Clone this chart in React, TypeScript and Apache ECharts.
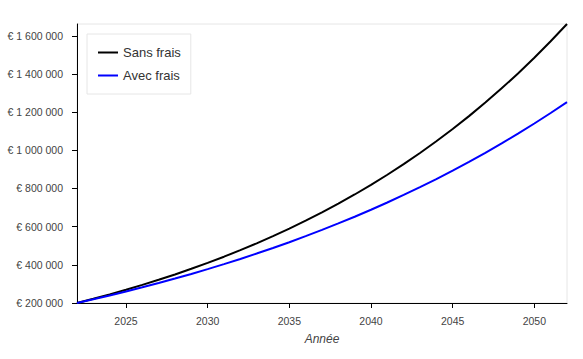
import React, { useEffect, useRef } from "react";
import * as echarts from "echarts";

const years = [
  2022, 2023, 2024, 2025, 2026, 2027, 2028, 2029, 2030, 2031, 2032, 2033, 2034, 2035, 2036, 2037,
  2038, 2039, 2040, 2041, 2042, 2043, 2044, 2045, 2046, 2047, 2048, 2049, 2050, 2051, 2052,
];
const sansFrais = [
  200000, 222000, 245100, 269400, 294800, 321600, 349600, 379100, 410100, 442600, 476700, 512500,
  550200, 589700, 631200, 674700, 720500, 768500, 818900, 871900, 927500, 985800, 1047100, 1111500,
  1179000, 1250000, 1324500, 1402700, 1484900, 1571100, 1661700,
];
const avecFrais = [
  200000, 219400, 239500, 260500, 282200, 304700, 328100, 352300, 377500, 403700, 430800, 459000,
  488200, 518600, 550100, 582800, 616800, 652000, 688600, 726600, 766000, 806900, 849300, 893400,
  939200, 986700, 1036000, 1087100, 1140300, 1195400, 1252600,
];
const xTicks = [2025, 2030, 2035, 2040, 2045, 2050];
const yTicks = [200000, 400000, 600000, 800000, 1000000, 1200000, 1400000, 1600000];

const fmtEuro = (v: number) =>
  "€ " + String(Math.round(v)).replace(/\B(?=(\d{3})+(?!\d))/g, " ");

const FONT = "'Liberation Sans', Arial, sans-serif";

export default function App() {
  const ref = useRef<HTMLDivElement>(null);
  useEffect(() => {
    if (!ref.current) return;
    const chart = echarts.init(ref.current, undefined, { renderer: "svg" });
    chart.setOption({
      animation: false,
      textStyle: { fontFamily: FONT },
      grid: {
        left: 77,
        right: 16,
        top: 24,
        bottom: 56,
        show: true,
        borderColor: "#e6e6e6",
        borderWidth: 1,
      },
      legend: {
        left: 87,
        top: 34,
        orient: "vertical",
        backgroundColor: "#fff",
        borderColor: "#e6e6e6",
        borderWidth: 1,
        padding: [12, 10, 12, 10],
        itemGap: 10,
        itemWidth: 20,
        itemHeight: 14,
        itemStyle: { opacity: 0 },
        textStyle: { fontSize: 13, color: "#333", fontFamily: FONT },
        data: ["Sans frais", "Avec frais"],
      },
      xAxis: {
        type: "value",
        min: 2022,
        max: 2052,
        name: "Année",
        nameLocation: "middle",
        nameGap: 30,
        nameTextStyle: { fontStyle: "italic", fontSize: 12, color: "#444", fontFamily: FONT },
        axisLine: { lineStyle: { color: "#000", width: 1 } },
        axisTick: { show: true, length: 5, lineStyle: { color: "#000" }, customValues: xTicks },
        axisLabel: {
          fontSize: 10.5,
          color: "#444",
          margin: 12,
          customValues: xTicks,
          formatter: (v: number) => String(v),
        },
        splitLine: { show: false },
      },
      yAxis: {
        type: "value",
        min: 200000,
        max: "dataMax",
        axisLine: { show: true, lineStyle: { color: "#000", width: 1 } },
        axisTick: { show: true, length: 5, lineStyle: { color: "#000" }, customValues: yTicks },
        axisLabel: {
          fontSize: 10.5,
          color: "#444",
          margin: 14,
          customValues: yTicks,
          formatter: (v: number) => fmtEuro(v),
        },
        splitLine: { show: false },
      },
      series: [
        {
          name: "Sans frais",
          type: "line",
          data: years.map((y, i) => [y, sansFrais[i]]),
          symbol: "none",
          smooth: false,
          lineStyle: { color: "#000", width: 2 },
          itemStyle: { color: "#000" },
        },
        {
          name: "Avec frais",
          type: "line",
          data: years.map((y, i) => [y, avecFrais[i]]),
          symbol: "none",
          smooth: false,
          lineStyle: { color: "#0000ff", width: 2 },
          itemStyle: { color: "#0000ff" },
        },
      ],
    });
    return () => chart.dispose();
  }, []);
  return <div ref={ref} style={{ width: 583, height: 359, position: "absolute", left: 0, top: 0 }} />;
}
